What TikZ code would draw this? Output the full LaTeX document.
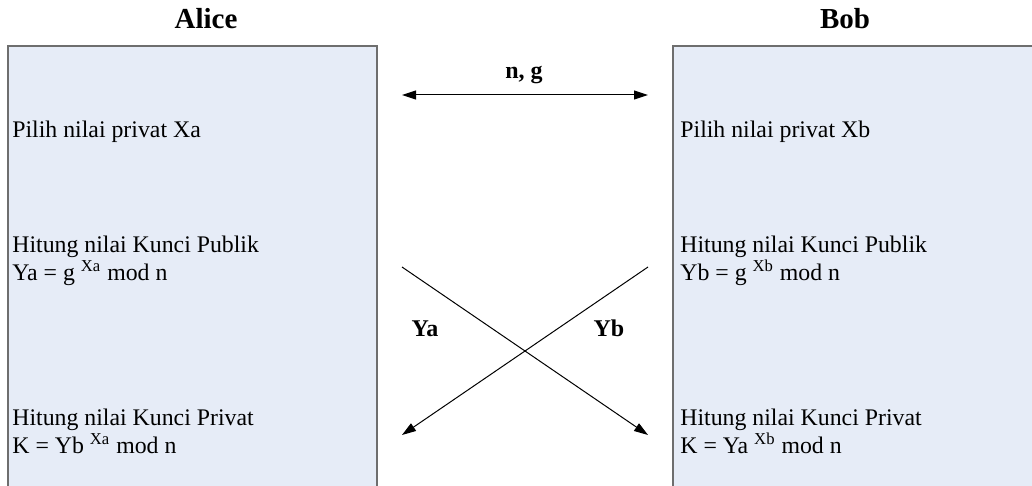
\documentclass[tikz,border=0pt]{standalone}
\usepackage{fontspec}
\setmainfont{Liberation Serif}
\usetikzlibrary{arrows.meta, positioning}

\definecolor{boxfill}{HTML}{E6ECF7}
\definecolor{boxline}{HTML}{6E6E6E}

\begin{document}
\begin{tikzpicture}[
    x=0.5pt, y=-0.5pt,
    title/.style={font=\fontsize{14.5}{16}\selectfont\bfseries, inner sep=0pt, anchor=base},
    txt/.style={font=\fontsize{11.9}{14}\selectfont, inner sep=0pt, anchor=base west, align=left},
    lbl/.style={font=\fontsize{12}{14}\selectfont\bfseries, inner sep=0pt, anchor=base},
    party/.style={fill=boxfill},
    partyline/.style={draw=boxline, line width=1pt},
    msg/.style={line width=0.5pt, {Triangle[length=7pt,width=4.5pt]}-{Triangle[length=7pt,width=4.5pt]}},
    send/.style={line width=0.5pt, -{Triangle[length=7pt,width=4.5pt]}}
]
\useasboundingbox (0,0) rectangle (1032,486);
\clip (0,0) rectangle (1032,486);

% boxes
\fill[party] (8,46) rectangle (377,500);
\draw[partyline] (8,500) |- (377,46) -- (377,500);
\fill[party] (673,46) rectangle (1040,500);
\draw[partyline] (673,500) |- (1040,46);

% titles
\node[title] (alice) at (206,29) {Alice};
\node[title] (bob) at (845,29) {Bob};

% Alice side
\node[txt] (apriv) at (12,138) {Pilih nilai privat Xa};
\node[txt] (apub) at (12,280) {Hitung nilai Kunci Publik\\Ya = g \textsuperscript{Xa} mod n};
\node[txt] (akey) at (12,453) {Hitung nilai Kunci Privat\\K = Yb \textsuperscript{Xa} mod n};

% Bob side
\node[txt] (bpriv) at (680,138) {Pilih nilai privat Xb};
\node[txt] (bpub) at (680,280) {Hitung nilai Kunci Publik\\Yb = g \textsuperscript{Xb} mod n};
\node[txt] (bkey) at (680,453) {Hitung nilai Kunci Privat\\K = Ya \textsuperscript{Xb} mod n};

% exchange
\coordinate (ngl) at (402,95);
\coordinate (ngr) at (648,95);
\coordinate (yas) at (402,267);
\coordinate (yae) at (648,435);
\coordinate (ybs) at (648,267);
\coordinate (ybe) at (402,435);

\draw[msg] (ngl) -- (ngr);
\node[lbl] (ng) at (524,79) {n, g};
\draw[send] (yas) -- (yae);
\draw[send] (ybs) -- (ybe);
\node[lbl] (ya) at (425,336) {Ya};
\node[lbl] (yb) at (609,336) {Yb};

\end{tikzpicture}
\end{document}
